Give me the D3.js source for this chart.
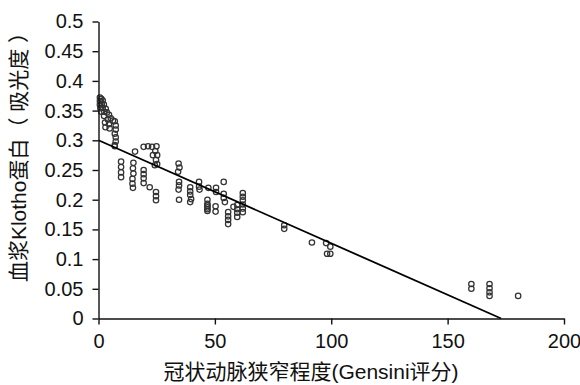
<!DOCTYPE html>
<html><head><meta charset="utf-8">
<script src="https://d3js.org/d3.v7.min.js"></script>
<style>
html,body{margin:0;padding:0;background:#fff;}
svg text{font-family:"Liberation Sans","Noto Sans CJK SC",Arial,sans-serif;fill:#111;}
</style></head>
<body><svg id="c" width="580" height="385"></svg>
<script>
const xTicks = [0, 50, 100, 150, 200];
const yTicks = [0, 0.05, 0.1, 0.15, 0.2, 0.25, 0.3, 0.35, 0.4, 0.45, 0.5];
const xTitle = "冠状动脉狭窄程度(Gensini评分)";
const yTitle = "血浆Klotho蛋白（ 吸光度 ）";

const gensini = [
  0.6,1.2,0.6,1.8,0.6,1.4,2.3,0.8,1.8,3.1,1.2,2.5,3.6,4.5,2.4,4.0,5.3,6.2,2.8,4.5,7.0,7.4,7.4,7.0,7.4,7.4,7.0,7.0,3.0,4.8,
  9.7,9.7,9.7,9.7,
  15,14.8,15,14.6,14.6,14.8,15.7,
  19.4,19.4,19.4,19.4,22,
  19.4,21.3,23,24.9,24.4,23.4,25.2,24.7,25.2,24.2,
  24.7,24.7,24.7,
  34.4,34.8,34.2,34.6,34.6,34.4,34.6,
  39.4,39.4,39.4,39.8,39.4,
  43.2,43.2,43.4,
  47.2,46.8,46.8,46.8,46.8,46.8,46.8,
  50.5,50.5,50.3,50.3,
  53.8,53.8,53.8,54.3,
  55.7,55.7,55.7,55.7,
  58,59.6,59.6,59.6,59.6,
  62,62,62,62,62,62,
  79.8,79.8,
  91.7,
  97.8,99.6,98.2,99.6,
  160.2,160.2,
  168,168,168,168,
  180.3
];
const klotho = [
  0.372,0.370,0.366,0.367,0.360,0.361,0.360,0.354,0.355,0.353,0.348,0.348,0.347,0.343,0.341,0.335,0.337,0.333,0.330,0.327,0.332,0.325,0.318,0.311,0.305,0.298,0.292,0.290,0.322,0.320,
  0.264,0.255,0.246,0.238,
  0.262,0.253,0.244,0.235,0.227,0.220,0.281,
  0.250,0.243,0.236,0.228,0.221,
  0.289,0.290,0.289,0.290,0.282,0.275,0.275,0.267,0.260,0.258,
  0.213,0.206,0.199,
  0.261,0.254,0.247,0.230,0.224,0.217,0.200,
  0.221,0.214,0.208,0.201,0.196,
  0.230,0.222,0.217,
  0.220,0.200,0.193,0.187,0.184,0.190,0.181,
  0.220,0.213,0.189,0.180,
  0.230,0.210,0.203,0.196,
  0.179,0.172,0.166,0.159,
  0.188,0.191,0.184,0.178,0.171,
  0.211,0.205,0.199,0.192,0.185,0.179,
  0.157,0.151,
  0.128,
  0.127,0.121,0.109,0.109,
  0.058,0.050,
  0.058,0.051,0.044,0.038,
  0.038
];
const fitX = [0, 173];
const fitY = [0.300, 0];

const svg = d3.select("#c");
const x = d3.scaleLinear().domain([0, 200]).range([98.5, 564]);
const y = d3.scaleLinear().domain([0, 0.5]).range([318.5, 21.5]);

const fmt = v => d3.format("~g")(+v.toFixed(2));

// points
const pts = gensini.map((g, i) => ({g, k: klotho[i]}));
svg.append("g").selectAll("circle").data(pts).join("circle")
  .attr("cx", d => x(d.g)).attr("cy", d => y(d.k)).attr("r", 2.7)
  .attr("fill", "none").attr("stroke", "#333").attr("stroke-width", 1.25);

// fit line
svg.append("path")
  .datum(fitX.map((v, i) => [v, fitY[i]]))
  .attr("d", d3.line().x(d => x(d[0])).y(d => y(d[1])))
  .attr("fill", "none").attr("stroke", "#000").attr("stroke-width", 1.8);

// axes
const xa = svg.append("g").attr("transform", `translate(0,${y(0)})`)
  .call(d3.axisBottom(x).tickValues(xTicks).tickSize(6).tickSizeOuter(0).tickPadding(9).tickFormat(d3.format("d")));
const ya = svg.append("g").attr("transform", `translate(${x(0)},0)`)
  .call(d3.axisLeft(y).tickValues(yTicks).tickSize(6).tickSizeOuter(0).tickPadding(9).tickFormat(fmt));
[xa, ya].forEach(a => {
  a.selectAll("path.domain").attr("stroke", "#111").attr("stroke-width", 1.4);
  a.selectAll(".tick line").attr("stroke", "#111").attr("stroke-width", 1.4);
  a.selectAll("text").attr("font-size", 20).attr("fill", "#111")
    .attr("font-family", '"Liberation Sans", Arial, sans-serif');
});

svg.append("text").attr("x", 311).attr("y", 379).attr("text-anchor", "middle")
  .attr("font-size", 21).text(xTitle);
svg.append("text").attr("transform", "translate(26,152) rotate(-90)")
  .attr("text-anchor", "middle").attr("font-size", 21).text(yTitle);
</script></body></html>
